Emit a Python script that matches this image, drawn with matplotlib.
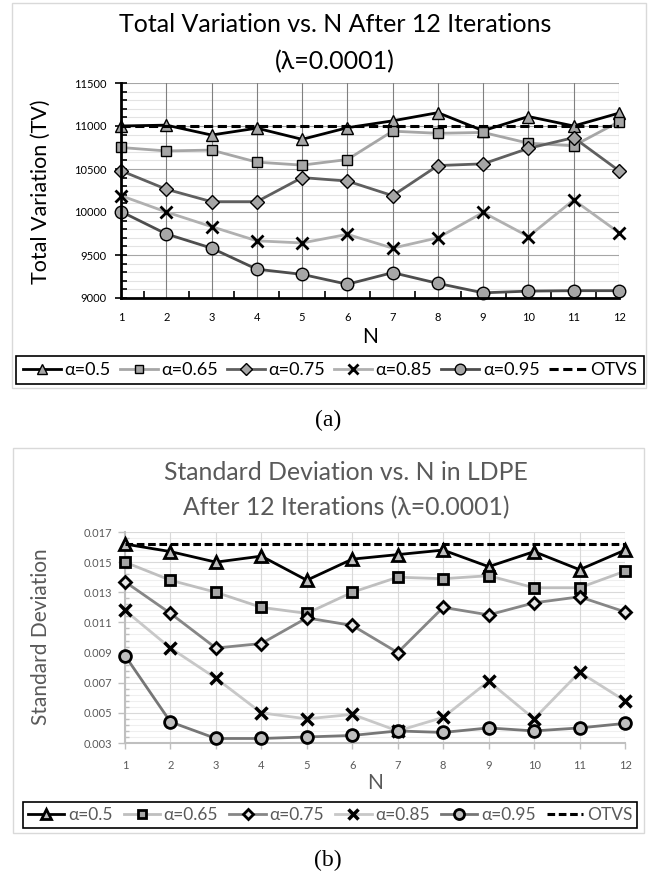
import numpy as np
import matplotlib
matplotlib.use("Agg")
import matplotlib.pyplot as plt
from matplotlib.patches import Rectangle

plt.rcParams['font.family'] = ['Lato', 'DejaVu Sans']

W, H = 654, 881

N = list(range(1, 13))
labels = ['α=0.5', 'α=0.65', 'α=0.75', 'α=0.85', 'α=0.95']

# (a) total variation
tv_050 = [11000, 11010, 10895, 10975, 10845, 10980, 11060, 11155, 10945, 11110, 11000, 11150]
tv_065 = [10750, 10710, 10720, 10580, 10545, 10610, 10940, 10915, 10925, 10800, 10770, 11050]
tv_075 = [10480, 10265, 10120, 10120, 10400, 10360, 10190, 10540, 10560, 10740, 10865, 10480]
tv_085 = [10190, 10000, 9830, 9665, 9640, 9740, 9580, 9700, 9995, 9715, 10140, 9760]
tv_095 = [10005, 9745, 9580, 9335, 9275, 9160, 9295, 9170, 9060, 9080, 9085, 9085]
tv_otvs = 11000

# (b) standard deviation
sd_050 = [0.0162, 0.0157, 0.0150, 0.0154, 0.0138, 0.0152, 0.0155, 0.0158, 0.0147, 0.0157, 0.0145, 0.0158]
sd_065 = [0.0150, 0.0138, 0.0130, 0.0120, 0.0116, 0.0130, 0.0140, 0.0139, 0.0141, 0.0133, 0.0133, 0.0144]
sd_075 = [0.0137, 0.0116, 0.0093, 0.0096, 0.0113, 0.0108, 0.0090, 0.0120, 0.0115, 0.0123, 0.0127, 0.0117]
sd_085 = [0.0118, 0.0093, 0.0073, 0.0050, 0.0046, 0.0049, 0.0038, 0.0047, 0.0071, 0.0046, 0.0077, 0.0058]
sd_095 = [0.0088, 0.0044, 0.0033, 0.0033, 0.0034, 0.0035, 0.0038, 0.0037, 0.0040, 0.0038, 0.0040, 0.0043]
sd_otvs = 0.0162


def fx(px):
    return px / W


def fy(py):
    return 1 - py / H


fig = plt.figure(figsize=(W / 100, H / 100), dpi=100)

# outer chart frames
for x0, y0, x1, y1 in [(12, 3, 646, 388), (13, 448, 644, 833)]:
    fig.patches.append(Rectangle((fx(x0), fy(y1)), fx(x1 - x0), (y1 - y0) / H,
                                 transform=fig.transFigure, fill=False,
                                 edgecolor='#d9d9d9', lw=1))

# ---------------- (a) ----------------
ax1 = fig.add_axes([fx(121), fy(298), fx(619 - 121), (298 - 83) / H])
styles_a = [
    dict(color='black', marker='^', ms=9, mfc='#a6a6a6', mec='black', mew=1),
    dict(color='#a6a6a6', marker='s', ms=7, mfc='#a6a6a6', mec='black', mew=1),
    dict(color='#5f5f5f', marker='D', ms=7, mfc='#a6a6a6', mec='black', mew=1),
    dict(color='#b0b0b0', marker='x', ms=8, mec='black', mew=2),
    dict(color='#4d4d4d', marker='o', ms=9, mfc='#a6a6a6', mec='black', mew=1),
]
for vals, lab, st in zip([tv_050, tv_065, tv_075, tv_085, tv_095], labels, styles_a):
    ax1.plot(N, vals, lw=2, label=lab, clip_on=False, zorder=3, **st)
ax1.plot(N, [tv_otvs] * len(N), color='black', lw=2.2, ls=(0, (3, 1.5)),
         label='OTVS', zorder=4)

ax1.set_xlim(1, 12)
ax1.set_ylim(9000, 11500)
ax1.set_xticks(N)
ax1.set_xticks(np.arange(1.5, 12, 1), minor=True)
ax1.set_yticks(range(9000, 11501, 500))
ax1.set_yticks(range(9000, 11501, 100), minor=True)
ax1.tick_params(axis='x', which='major', length=0, pad=10, labelsize=8, labelcolor='black')
ax1.tick_params(axis='x', which='minor', direction='in', length=5, width=1.2, color='black')
ax1.tick_params(axis='y', which='major', direction='inout', length=9, width=1.2,
                color='black', labelsize=8, pad=6)
ax1.tick_params(axis='y', which='minor', direction='in', length=4, width=1.2, color='black')
ax1.grid(axis='x', which='major', color='#808080', lw=0.8)
ax1.grid(axis='y', which='major', color='#a6a6a6', lw=0.8)
ax1.grid(axis='y', which='minor', color='#e3e3e3', lw=0.8)
ax1.set_axisbelow(True)
ax1.yaxis.set_zorder(0.4)  # keep horizontal grid under the vertical one
for s in ['top', 'right']:
    ax1.spines[s].set_visible(False)
for s in ['left', 'bottom']:
    ax1.spines[s].set_linewidth(2)
    ax1.spines[s].set_color('black')
    ax1.spines[s].set_zorder(5)

fig.text(fx(335), fy(25), 'Total Variation vs. N After 12 Iterations',
         ha='center', va='center', fontsize=18, color='black')
fig.text(fx(335), fy(62), '(λ=0.0001)', ha='center', va='center', fontsize=18, color='black')
fig.text(fx(41), fy(192), 'Total Variation (TV)', rotation=90, ha='center', va='center',
         fontsize=15.5, color='black')
fig.text(fx(370), fy(337), 'N', ha='center', va='center', fontsize=15, color='black')

leg1 = fig.legend(*ax1.get_legend_handles_labels(), loc='center', ncol=6,
                  bbox_to_anchor=(fx(330), fy(370)), markerscale=0.85,
                  fontsize=13, handlelength=2.1, handletextpad=0.2, columnspacing=0.5,
                  borderpad=0.35, fancybox=False, framealpha=1, edgecolor='black')
leg1.get_frame().set_linewidth(1.2)

fig.text(fx(328), fy(420), '(a)', ha='center', va='center', fontsize=17,
         family=['Liberation Serif', 'DejaVu Serif'], color='black')

# ---------------- (b) ----------------
ax2 = fig.add_axes([fx(125), fy(743), fx(625 - 125), (743 - 532) / H])
styles_b = [
    dict(color='black', marker='^', ms=8, mfc='#bfbfbf', mec='black', mew=2),
    dict(color='#bfbfbf', marker='s', ms=7, mfc='#a6a6a6', mec='black', mew=2),
    dict(color='#868686', marker='D', ms=6.5, mfc='#e6e6e6', mec='black', mew=2),
    dict(color='#c8c8c8', marker='x', ms=8, mec='black', mew=2.5),
    dict(color='#767676', marker='o', ms=8.5, mfc='#bfbfbf', mec='black', mew=2),
]
for vals, lab, st in zip([sd_050, sd_065, sd_075, sd_085, sd_095], labels, styles_b):
    ax2.plot(N, vals, lw=2, label=lab, clip_on=False, zorder=3, **st)
ax2.plot(N, [sd_otvs] * len(N), color='black', lw=2.2, ls=(0, (2.5, 1.2)),
         label='OTVS', zorder=4)

ax2.set_xlim(1, 12)
ax2.set_ylim(0.003, 0.017)
ax2.set_xticks(N)
ax2.set_yticks(np.arange(0.003, 0.01701, 0.002))
ax2.set_yticks(np.arange(0.003, 0.01701, 0.0004), minor=True)
ax2.set_yticklabels([f'{v:.3f}' for v in np.arange(0.003, 0.01701, 0.002)])
ax2.tick_params(axis='x', which='major', direction='out', length=4, width=1,
                color='#bfbfbf', labelsize=8, labelcolor='#595959', pad=8)
ax2.tick_params(axis='y', which='major', direction='out', length=5, width=1,
                color='#bfbfbf', labelsize=8, labelcolor='#595959', pad=4)
ax2.tick_params(axis='y', which='minor', direction='in', length=3, width=1, color='#bfbfbf')
ax2.grid(axis='x', which='major', color='#d9d9d9', lw=0.8)
ax2.grid(axis='y', which='major', color='#d9d9d9', lw=0.8)
ax2.grid(axis='y', which='minor', color='#efefef', lw=0.8)
ax2.set_axisbelow(True)
ax2.yaxis.set_zorder(0.4)
for s in ['top', 'right']:
    ax2.spines[s].set_visible(False)
for s in ['left', 'bottom']:
    ax2.spines[s].set_linewidth(1.5)
    ax2.spines[s].set_color('#bfbfbf')

fig.text(fx(346), fy(472), 'Standard Deviation vs. N in LDPE', ha='center', va='center',
         fontsize=17.8, color='#595959')
fig.text(fx(346), fy(508), 'After 12 Iterations (λ=0.0001)', ha='center', va='center',
         fontsize=17.8, color='#595959')
fig.text(fx(41), fy(637), 'Standard Deviation', rotation=90, ha='center', va='center',
         fontsize=15, color='#595959')
fig.text(fx(375), fy(783), 'N', ha='center', va='center', fontsize=15, color='#595959')

leg2 = fig.legend(*ax2.get_legend_handles_labels(), loc='center', ncol=6,
                  bbox_to_anchor=(fx(330), fy(815)), markerscale=0.85,
                  fontsize=12.5, handlelength=2.1, handletextpad=0.2, columnspacing=0.65,
                  borderpad=0.3, fancybox=False, framealpha=1, edgecolor='black')
leg2.get_frame().set_linewidth(1.2)
for t in leg2.get_texts():
    t.set_color('#595959')

fig.text(fx(328), fy(860), '(b)', ha='center', va='center', fontsize=17,
         family=['Liberation Serif', 'DejaVu Serif'], color='black')

fig.savefig('out.png', dpi=100)
